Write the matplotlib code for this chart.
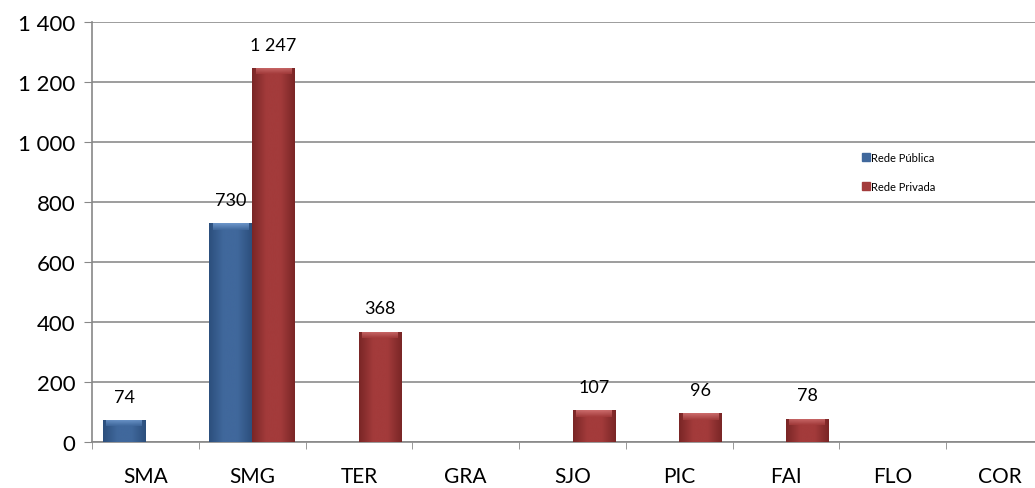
import numpy as np
import matplotlib.pyplot as plt
from matplotlib.colors import LinearSegmentedColormap
from matplotlib.patches import Patch

plt.rcParams['font.family'] = ['Lato', 'DejaVu Sans']

categories = ["SMA", "SMG", "TER", "GRA", "SJO", "PIC", "FAI", "FLO", "COR"]
publica = [74, 730, 0, 0, 0, 0, 0, 0, 0]
privada = [0, 1247, 368, 0, 107, 96, 78, 0, 0]
yticks = [0, 200, 400, 600, 800, 1000, 1200, 1400]
yticklabels = ["0", "200", "400", "600", "800", "1 000", "1 200", "1 400"]


def fmt(v):
    return "{:,}".format(v).replace(",", " ")


def gradient_bar(ax, x, w, h, dark, mid, light):
    # horizontal shading, darker at the edges, lighter bevel on top
    cmap = LinearSegmentedColormap.from_list("g", [dark, mid, mid, dark])
    grad = np.linspace(0, 1, 64).reshape(1, -1)
    im = ax.imshow(grad, cmap=cmap, aspect="auto", extent=(x, x + w, 0, h),
                   zorder=3, interpolation="bicubic")
    bar = ax.bar(x, h, w, align="edge", color="none", zorder=4)[0]
    im.set_clip_path(bar)
    top = min(h, 22)
    bev = LinearSegmentedColormap.from_list("b", [mid, light])
    im2 = ax.imshow(np.linspace(0, 1, 32).reshape(-1, 1), cmap=bev, aspect="auto",
                    extent=(x + w * 0.08, x + w * 0.92, h - top, h), origin="lower",
                    zorder=4, interpolation="bicubic", alpha=0.8)
    im2.set_clip_path(bar)


fig = plt.figure(figsize=(10.35, 4.89), dpi=100)
ax = fig.add_axes([0.0889, 0.094, 0.9285, 0.859])

x = np.arange(len(categories))
w = 0.4
blue = ("#2c4f7d", "#40689c", "#7aa4d8")
red = ("#7a2626", "#a33b3b", "#d87a7a")
for i in range(len(categories)):
    if publica[i] > 0:
        gradient_bar(ax, x[i] - w, w, publica[i], *blue)
        ax.annotate(fmt(publica[i]), (x[i] - w / 2, publica[i]), xytext=(0, 11),
                    textcoords="offset points", ha="center", va="bottom", fontsize=13)
    if privada[i] > 0:
        gradient_bar(ax, x[i], w, privada[i], *red)
        ax.annotate(fmt(privada[i]), (x[i] + w / 2, privada[i]), xytext=(0, 11),
                    textcoords="offset points", ha="center", va="bottom", fontsize=13)

ax.set_xlim(-0.5, len(categories) - 0.5)
ax.set_ylim(0, 1400)
ax.set_yticks(yticks)
ax.set_yticklabels(yticklabels, fontsize=16)
ax.set_xticks(x)
ax.set_xticklabels(categories, fontsize=15)
ax.set_xticks(np.arange(len(categories) + 1) - 0.5, minor=True)
ax.tick_params(axis="x", which="major", length=0, pad=17)
ax.tick_params(axis="x", which="minor", length=5, color="#888888")
ax.tick_params(axis="y", length=6, color="#888888", pad=6)
ax.grid(axis="y", color="#8c8c8c", linewidth=1.2)
ax.set_axisbelow(True)
for s in ["top", "right"]:
    ax.spines[s].set_visible(False)
for s in ["left", "bottom"]:
    ax.spines[s].set_color("#888888")
    ax.spines[s].set_linewidth(1.2)

handles = [Patch(color=blue[1]), Patch(color=red[1])]
ax.legend(handles, ["Rede Pública", "Rede Privada"], loc="upper left",
          bbox_to_anchor=(0.801, 0.69), frameon=False, fontsize=8,
          handlelength=0.7, handleheight=0.7, handletextpad=0.15, labelspacing=1.6,
          borderpad=0, borderaxespad=0)

fig.savefig("out.png", dpi=100)
